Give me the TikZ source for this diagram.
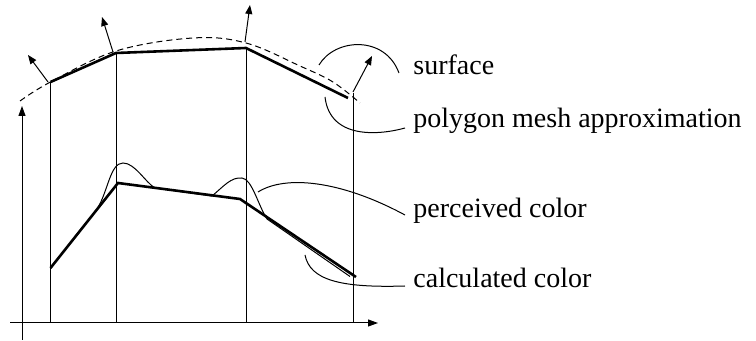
\documentclass[tikz,border=0pt]{standalone}
\usepackage{fontspec}
\setmainfont{Liberation Serif}
\usetikzlibrary{arrows.meta,calc}

\begin{document}
\begin{tikzpicture}[x=0.5pt, y=-0.5pt, every node/.style={font=\fontsize{14}{16}\selectfont}]
  \tikzset{thn/.style={line width=0.5pt},
           thk/.style={line width=1.3pt},
           nrm/.style={-{Triangle[length=4.5pt,width=3.5pt]}, line width=0.5pt},
           lbl/.style={anchor=base west, inner xsep=4pt, inner ysep=0pt}}
  \useasboundingbox (0,0) rectangle (756,341);
  % axes
  \draw[thn, -{Triangle[length=5pt,width=3.5pt]}] (22,340) -- (22,106);
  \draw[thn, -{Triangle[length=5pt,width=3.5pt]}] (10,323) -- (378,323);
  \foreach \x/\y in {50.5/82, 116/53, 246/48, 353/93}
    \draw[thn] (\x,\y) -- (\x,323);
  % surface and its normals
  \draw[thn, dash pattern=on 3pt off 2pt] plot[smooth, tension=0.6] coordinates
    {(20,101) (50.5,82) (116,51) (193,38) (246,43) (300,66) (333,82) (360,103)};
  \draw[nrm] (48,82) -- (28,55);
  \draw[nrm] (113,52) -- (102,17);
  \draw[nrm] (245,42) -- (250,5);
  \draw[nrm] (353,92) -- (372,56);
  % polygon mesh
  \draw[thk] (50.5,82) -- (116,53) -- (246,48) -- (348,98);
  % perceived and calculated color
  \draw[thn] (50.5,268) -- (97,209) .. controls (108,192) and (110,163) .. (123,163)
    .. controls (135,163) and (145,182) .. (155,188) -- (212,196)
    .. controls (224,186) and (231,177) .. (242,178)
    .. controls (252,179) and (258,205) .. (267,219) -- (350,276.5);
  \draw[thk] (50.5,268) -- (118,183) -- (240,199) -- (356,277);
  % labels
  \node[lbl] (sfc) at (405,75) {surface};
  \node[lbl] (pma) at (405,128) {polygon mesh approximation};
  \node[lbl] (pcv) at (405,218) {perceived color};
  \node[lbl] (clc) at (405,288) {calculated color};
  \coordinate (sfcpt) at (319,65);
  \coordinate (pmapt) at (325,97);
  \coordinate (pcvpt) at (258,192);
  \coordinate (clcpt) at (305,255);
  \draw[thn] (sfcpt) .. controls (335,38) and (385,35) .. ($(sfc.base west)+(-6,-2)$);
  \draw[thn] (pmapt) .. controls (330,140) and (380,135) .. (pma.base west);
  \draw[thn] (pcvpt) .. controls (285,175) and (340,180) .. ($(pcv.base west)+(0,-3)$);
  \draw[thn] (clcpt) .. controls (310,280) and (340,288) .. ($(clc.base west)+(0,-2)$);
\end{tikzpicture}
\end{document}
